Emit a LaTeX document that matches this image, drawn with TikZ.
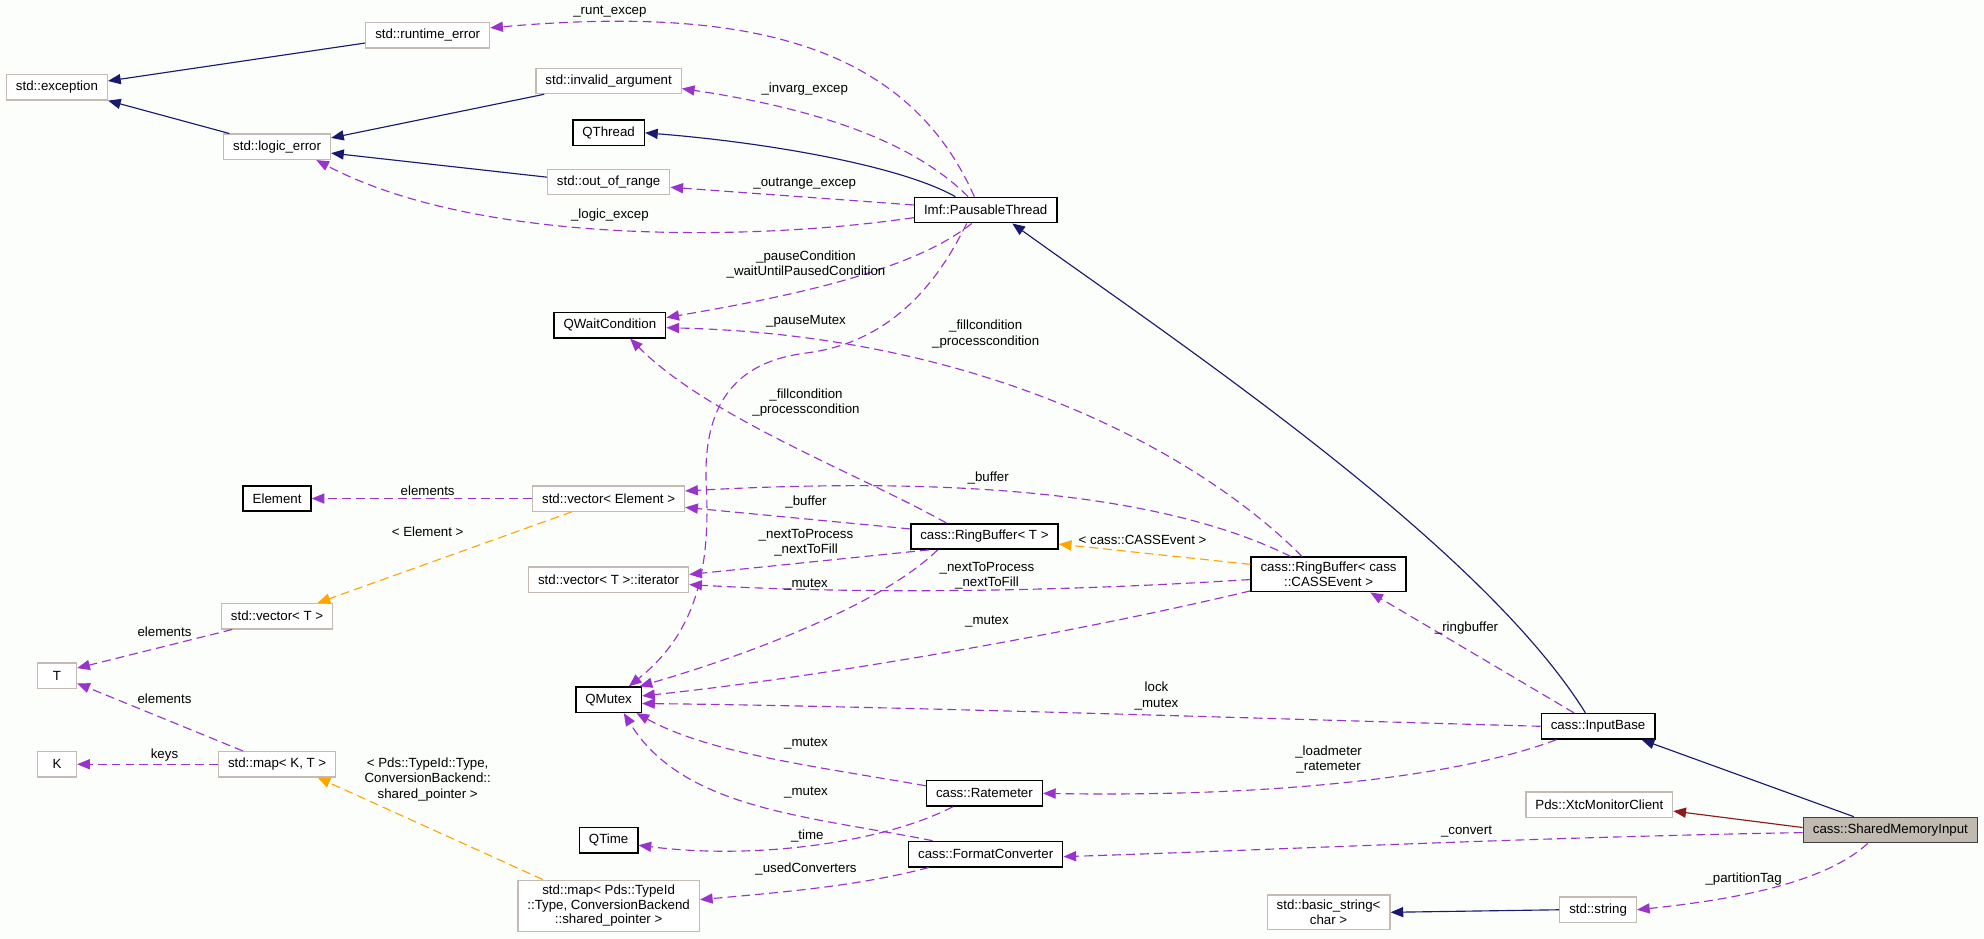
\documentclass[tikz,border=0pt]{standalone}
\usepackage{fontspec}
\setmainfont{Liberation Sans}
\usetikzlibrary{arrows.meta}
\definecolor{inhc}{HTML}{191970}
\definecolor{usec}{HTML}{9A32CD}
\definecolor{tplc}{HTML}{FFA500}
\definecolor{privc}{HTML}{8B1A1A}
\definecolor{greyb}{HTML}{C4BCB4}
\definecolor{smifill}{HTML}{C1BAB0}
\definecolor{smidraw}{HTML}{404040}
\definecolor{bgc}{HTML}{FCFEFC}
\begin{document}
\begin{tikzpicture}[x=1pt,y=-1pt,
 every node/.style={font=\fontsize{10.5}{11.5}\selectfont},
 cls/.style={draw=black, line width=1.2pt, fill=white, minimum height=20pt, inner xsep=7.5pt, inner ysep=4pt, align=center},
 ucls/.style={cls, draw=greyb, line width=1pt},
 lbl/.style={align=center, inner sep=0pt, font=\fontsize{10.5}{12}\selectfont},
 tip/.style={-{Triangle[length=10pt,width=8pt]}},
 inh/.style={tip, draw=inhc, line width=0.9pt},
 priv/.style={tip, draw=privc, line width=0.9pt},
 use/.style={tip, draw=usec, line width=0.9pt, dash pattern=on 7pt off 4pt},
 tpl/.style={tip, draw=tplc, line width=0.9pt, dash pattern=on 7pt off 4pt},
]
\fill[bgc] (0,0) rectangle (1568,742);
\useasboundingbox (0,0) rectangle (1568,742);

% nodes
\node[ucls] (exc) at (45,69) {std::exception};
\node[ucls] (rte) at (338,28) {std::runtime\_error};
\node[ucls] (inv) at (481,64) {std::invalid\_argument};
\node[cls] (qth) at (481,105) {QThread};
\node[ucls] (loe) at (219,116) {std::logic\_error};
\node[ucls] (oor) at (481,144) {std::out\_of\_range};
\node[cls] (pth) at (779,166) {Imf::PausableThread};
\node[cls] (qwc) at (482,257) {QWaitCondition};
\node[cls] (elem) at (219,394) {Element};
\node[ucls] (vecE) at (481,394) {std::vector< Element >};
\node[cls] (rbT) at (778,424) {cass::RingBuffer< T >};
\node[ucls] (iter) at (481,458) {std::vector< T >::iterator};
\node[cls] (rbC) at (1050,454) {cass::RingBuffer< cass\\::CASSEvent >};
\node[ucls] (vecT) at (219,487) {std::vector< T >};
\node[ucls, minimum width=31pt] (T) at (45,534) {T};
\node[cls] (qmx) at (481,553) {QMutex};
\node[cls] (ib) at (1263,574) {cass::InputBase};
\node[ucls, minimum width=31pt] (K) at (45,604) {K};
\node[ucls] (mapKT) at (219,604) {std::map< K, T >};
\node[cls] (rate) at (778,627) {cass::Ratemeter};
\node[ucls] (xtc) at (1264,636) {Pds::XtcMonitorClient};
\node[cls, fill=smifill, draw=smidraw] (smi) at (1494,656) {cass::SharedMemoryInput};
\node[cls] (qtime) at (481,664) {QTime};
\node[cls] (fc) at (779,675) {cass::FormatConverter};
\node[ucls] (mapP) at (481,716) {std::map< Pds::TypeId\\::Type, ConversionBackend\\::shared\_pointer >};
\node[ucls] (bstr) at (1050,721) {std::basic\_string<\\char >};
\node[ucls] (str) at (1263,719) {std::string};

% inheritance
\draw[inh] ([yshift=-6pt]rte.west) -- ([yshift=5pt]exc.east);
\draw[inh] ([xshift=5pt]loe.north west) -- (exc.south east);
\draw[inh] ([xshift=7pt]inv.south west) -- ([yshift=7pt]loe.east);
\draw[inh] ([yshift=4pt]oor.west) -- ([yshift=-5pt]loe.east);
\draw[inh] ([xshift=-24pt]pth.north) .. controls (710,130) and (600,112) .. (qth.east);
\draw[inh] ([xshift=-10pt]ib.north) .. controls (1170,430) and (930,270) .. ([xshift=21pt]pth.south);
\draw[inh] ([xshift=-29pt]smi.north) -- ([xshift=-11pt]ib.south east);
\draw[priv] ([yshift=2pt]smi.west) -- ([yshift=-5pt]xtc.east);
\draw[inh] (str.west) -- (bstr.east);

% template instances
\draw[tpl] ([yshift=8pt]rbC.west) -- ([yshift=-6pt]rbT.east);
\draw[tpl] ([xshift=-29pt]vecE.south) -- ([xshift=32pt]vecT.north);
\draw[tpl] ([xshift=-52pt]mapP.north) -- ([xshift=32pt]mapKT.south);

% usage
\draw[use] ([xshift=-9pt]pth.north) .. controls (715,30) and (580,5) .. ([yshift=6pt]rte.east);
\draw[use] ([xshift=-14pt]pth.north) .. controls (720,110) and (640,85) .. ([yshift=-6pt]inv.east);
\draw[use] ([yshift=4pt]pth.west) -- ([yshift=-4pt]oor.east);
\draw[use] ([yshift=-6pt]pth.west) .. controls (600,190) and (380,195) .. ([xshift=31pt]loe.south);
\draw[use] ([xshift=-11pt]pth.south) .. controls (720,215) and (620,235) .. ([yshift=6pt]qwc.east);
\draw[use] ([xshift=-15pt]pth.south) .. controls (745,215) and (710,270) .. (637,279) .. controls (590,285) and (556,310) .. (558,380) .. controls (562,450) and (550,500) .. ([xshift=16pt]qmx.north);
\draw[use] ([xshift=-30pt]rbT.north) .. controls (680,375) and (560,330) .. ([xshift=16pt]qwc.south);
\draw[use] ([xshift=-21pt]rbC.north) .. controls (950,360) and (780,265) .. ([yshift=-2pt]qwc.east);
\draw[use] ([yshift=6pt]rbT.west) -- ([yshift=-7pt]vecE.east);
\draw[use] ([xshift=-30pt]rbC.north) .. controls (930,395) and (780,375) .. ([yshift=6pt]vecE.east);
\draw[use] ([xshift=-44pt]rbT.south) -- ([yshift=4pt]iter.east);
\draw[use] ([yshift=-4pt]rbC.west) .. controls (800,470) and (650,468) .. ([yshift=-4pt]iter.east);
\draw[use] ([xshift=-37pt]rbT.south) .. controls (700,475) and (600,515) .. ([xshift=-2pt]qmx.north east);
\draw[use] ([yshift=-13pt]rbC.west) .. controls (850,500) and (650,535) .. ([yshift=3pt]qmx.east);
\draw[use] ([xshift=-19pt]ib.north) -- ([xshift=33pt]rbC.south);
\draw[use] (ib.west) .. controls (1000,568) and (700,558) .. ([yshift=-3pt]qmx.east);
\draw[use] ([xshift=-33pt]ib.south) .. controls (1150,615) and (1000,630) .. (rate.east);
\draw[use] ([yshift=-2pt]smi.west) .. controls (1200,662) and (1000,672) .. ([yshift=-2pt]fc.east);
\draw[use] ([xshift=-18pt]smi.south) .. controls (1440,700) and (1360,712) .. (str.east);
\draw[use] ([yshift=6pt]rate.west) .. controls (640,605) and (560,595) .. ([xshift=22pt]qmx.south);
\draw[use] ([xshift=-42pt]fc.north) .. controls (640,645) and (540,640) .. ([xshift=12pt]qmx.south);
\draw[use] ([xshift=-25pt]rate.south) .. controls (700,665) and (600,680) .. ([yshift=-4pt]qtime.east);
\draw[use] ([xshift=-45pt]fc.south) .. controls (680,700) and (620,705) .. ([yshift=5pt]mapP.east);
\draw[use] (vecE.west) -- (elem.east);
\draw[use] ([xshift=9pt]vecT.south west) -- ([yshift=6pt]T.east);
\draw[use] ([xshift=-27pt]mapKT.north) -- ([yshift=-6pt]T.east);
\draw[use] (mapKT.west) -- (K.east);

% labels
\node[lbl] (l1) at (482,9) {\_runt\_excep};
\node[lbl] (l2) at (482,170) {\_logic\_excep};
\node[lbl] (l3) at (636,70) {\_invarg\_excep};
\node[lbl] (l4) at (636,145) {\_outrange\_excep};
\node[lbl] (l5) at (637,209) {\_pauseCondition\\\_waitUntilPausedCondition};
\node[lbl] (l6) at (637,254) {\_pauseMutex};
\node[lbl] (l7) at (779,264) {\_fillcondition\\\_processcondition};
\node[lbl] (l8) at (637,318) {\_fillcondition\\\_processcondition};
\node[lbl] (l9) at (781,378) {\_buffer};
\node[lbl] (l10) at (637,397) {\_buffer};
\node[lbl] (l11) at (637,429) {\_nextToProcess\\\_nextToFill};
\node[lbl] (l12) at (780,455) {\_nextToProcess\\\_nextToFill};
\node[lbl] (l13) at (637,462) {\_mutex};
\node[lbl] (l14) at (780,491) {\_mutex};
\node[lbl] (l15) at (914,550) {lock\\\_mutex};
\node[lbl] (l16) at (637,588) {\_mutex};
\node[lbl] (l17) at (637,626) {\_mutex};
\node[lbl] (l18) at (638,661) {\_time};
\node[lbl] (l19) at (637,687) {\_usedConverters};
\node[lbl] (l20) at (903,427) {< cass::CASSEvent >};
\node[lbl] (l21) at (1159,496) {\_ringbuffer};
\node[lbl] (l22) at (1050,600) {\_loadmeter\\\_ratemeter};
\node[lbl] (l23) at (1159,657) {\_convert};
\node[lbl] (l24) at (1378,695) {\_partitionTag};
\node[lbl] (l25) at (338,388) {elements};
\node[lbl] (l26) at (338,420) {< Element >};
\node[lbl] (l27) at (130,499) {elements};
\node[lbl] (l28) at (130,552) {elements};
\node[lbl] (l29) at (130,597) {keys};
\node[lbl] (l30) at (338,616) {< Pds::TypeId::Type,\\ConversionBackend::\\shared\_pointer >};
\end{tikzpicture}
\end{document}
